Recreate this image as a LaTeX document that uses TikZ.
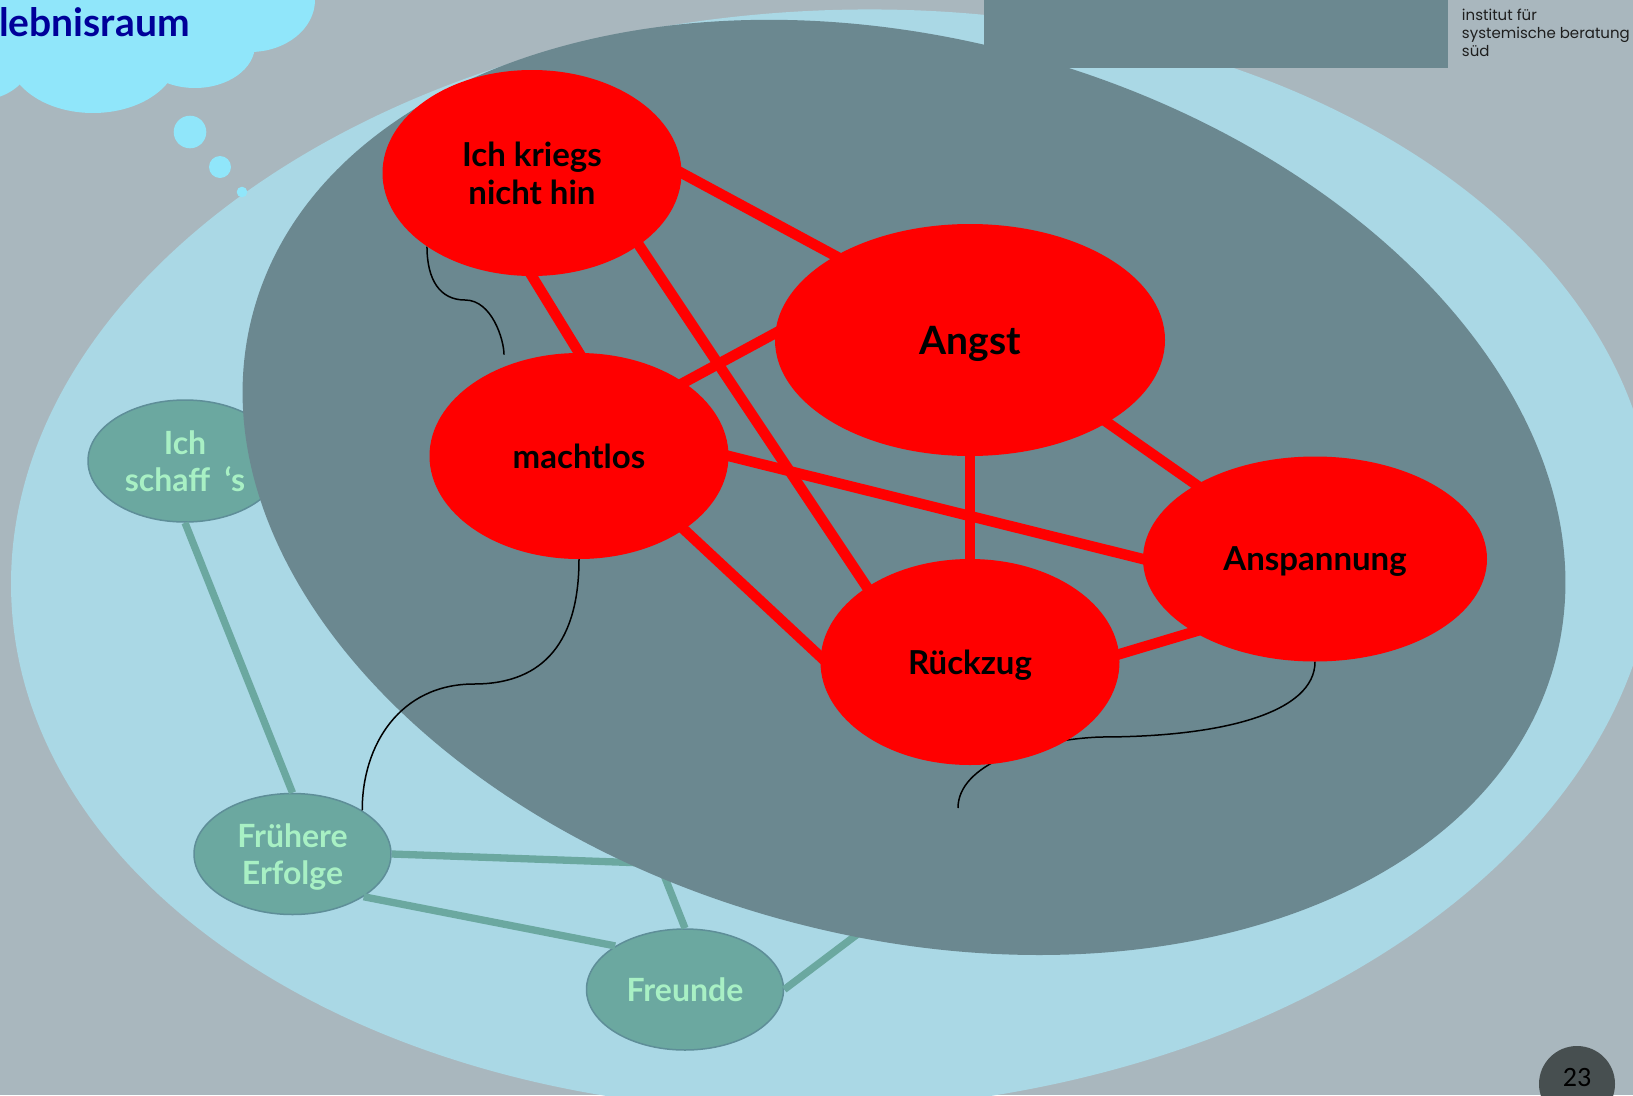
\documentclass[tikz,border=0pt]{standalone}
\usepackage{fontspec}
\setmainfont{Lato}
\newfontfamily\instfont{Poppins}
\newfontfamily\numfont{Carlito}
\usetikzlibrary{shapes.geometric, positioning}

\definecolor{pagegray}{HTML}{A9B7BE}
\definecolor{paleblue}{HTML}{AAD8E5}
\definecolor{slate}{HTML}{6B8890}
\definecolor{cloudblue}{HTML}{90E6FA}
\definecolor{titleblue}{HTML}{000099}
\definecolor{bubred}{HTML}{FF0000}
\definecolor{sage}{HTML}{6BA8A0}
\definecolor{sageedge}{HTML}{5E8E98}
\definecolor{mint}{HTML}{A8F0C4}
\definecolor{numgray}{HTML}{474F50}
\definecolor{insttext}{HTML}{1E1E1E}

\pgfdeclarelayer{back}
\pgfdeclarelayer{edges}
\pgfsetlayers{back,edges,main}

\tikzset{
  redbub/.style={ellipse, fill=bubred, inner sep=0pt, text depth=0pt,
                 minimum width=299pt, minimum height=206pt, align=center,
                 font=\bfseries\fontsize{33}{37.5}\selectfont},
  greenbub/.style={ellipse, fill=sage, draw=sageedge, line width=1.5pt,
                   inner sep=0pt, text depth=0pt,
                   minimum width=197pt, minimum height=121pt,
                   align=center, text=mint,
                   font=\bfseries\fontsize{32}{36.5}\selectfont},
  redlink/.style={draw=bubred, line width=10.5pt,
                  shorten <=-8pt, shorten >=-8pt},
  greenlink/.style={draw=sage, line width=7.3pt},
  thread/.style={draw=black, line width=1.5pt}
}

\begin{document}
\begin{tikzpicture}[x=1pt, y=-1pt]
    \useasboundingbox (0,0) rectangle (1633,1095);

    \begin{pgfonlayer}{back}
    \fill[pagegray] (0,0) rectangle (1633,1095);
    \fill[paleblue, rotate around={3:(833.2,560.3)}]
         (833.2,560.3) ellipse [x radius=822.8pt, y radius=549.9pt];

    \fill[cloudblue] (0,0) rectangle (240,40);
    \fill[cloudblue] (250,0) ellipse [x radius=65pt, y radius=52pt];
    \fill[cloudblue] (195,45) ellipse [x radius=60pt, y radius=43pt];
    \fill[cloudblue] (93,55) ellipse [x radius=85pt, y radius=58pt];
    \fill[cloudblue] (-20,50) ellipse [x radius=55pt, y radius=50pt];
    \fill[cloudblue] (190,132) circle [radius=16.3pt];
    \fill[cloudblue] (220,167) circle [radius=11pt];
    \fill[cloudblue] (242,192) circle [radius=5.3pt];
    \node[anchor=base west, inner sep=0pt, text=titleblue,
          font=\bfseries\fontsize{39}{39}\selectfont] (title) at (-1,36)
         {lebnisraum};

    \node[greenbub, minimum width=194pt, minimum height=122pt] (schaff)
         at (185,461) {Ich\\schaff\hspace{0.45em}‘s};
    \node[greenbub] (frueh) at (292.5,854) {Frühere\\Erfolge};
    \node[greenbub] (freunde) at (685,989.5) {Freunde};
    \coordinate (hidA) at (729,866);
    \coordinate (hidB) at (635,802);
    \coordinate (hidC) at (916,890);
    \draw[greenlink] (schaff.south) -- (frueh.north);
    \draw[greenlink] (frueh.east) -- (hidA);
    \draw[greenlink] (frueh.-31) -- (freunde.148);
    \draw[greenlink] (freunde.north) -- (hidB);
    \draw[greenlink] (freunde.east) -- (hidC);

    \fill[slate, rotate around={-15:(904,487.4)}]
         (904,487.4) ellipse [x radius=674pt, y radius=449pt];
    \fill[slate] (984,0) rectangle (1448,68);
    \end{pgfonlayer}

    \node[redbub] (ich) at (532,173) {Ich kriegs\\nicht hin};
    \node[redbub, minimum width=390pt, minimum height=232pt,
          font=\bfseries\fontsize{39}{39}\selectfont] (angst) at (970,340) {Angst};
    \node[redbub] (machtlos) at (579,456) {machtlos};
    \node[redbub, minimum width=344pt, minimum height=205pt] (ansp)
         at (1315,559) {Anspannung};
    \node[redbub] (rueck) at (970,662) {Rückzug};

    \begin{pgfonlayer}{edges}
    \draw[redlink] (ich.east) -- (angst.148);
    \draw[redlink] (ich.south) -- (machtlos.north);
    \draw[redlink] (ich.-34) -- (rueck.144);
    \draw[redlink] (machtlos.35) -- (angst.178);
    \draw[redlink] (machtlos.east) -- (ansp.west);
    \draw[redlink] (machtlos.-35) -- (rueck.178);
    \draw[redlink] (angst.south) -- (rueck.north);
    \draw[redlink] (angst.-31) -- (ansp.148);
    \draw[redlink] (rueck.3) -- (ansp.211);

    \draw[thread, shorten >=12pt] (ich.215) .. controls (427,280) and (440,300)
          .. (465,300) .. controls (492,300) and (504,340) .. (machtlos.130);
    \draw[thread] (machtlos.south) .. controls (579,640) and (545,684)
          .. (474,684) .. controls (400,684) and (362,745) .. (frueh.32);
    \coordinate (threadend) at (958,808);
    \draw[thread] (ansp.south) .. controls (1315,712) and (1225,737)
          .. (1100,737) .. controls (1030,740) and (958,765) .. (threadend);
    \end{pgfonlayer}

    \node[anchor=north east, align=left, inner sep=0pt, text=insttext,
          font=\instfont\fontsize{15}{18}\selectfont] (inst) at (1630,9)
         {institut für\\systemische beratung\\süd};

    \node[circle, fill=numgray, minimum size=76pt, inner sep=0pt] (pagedot)
         at (1577,1084) {};
    \node[anchor=base, inner sep=0pt, font=\numfont\fontsize{28}{28}\selectfont]
         (pagenum) at (1577,1086) {23};
\end{tikzpicture}
\end{document}
